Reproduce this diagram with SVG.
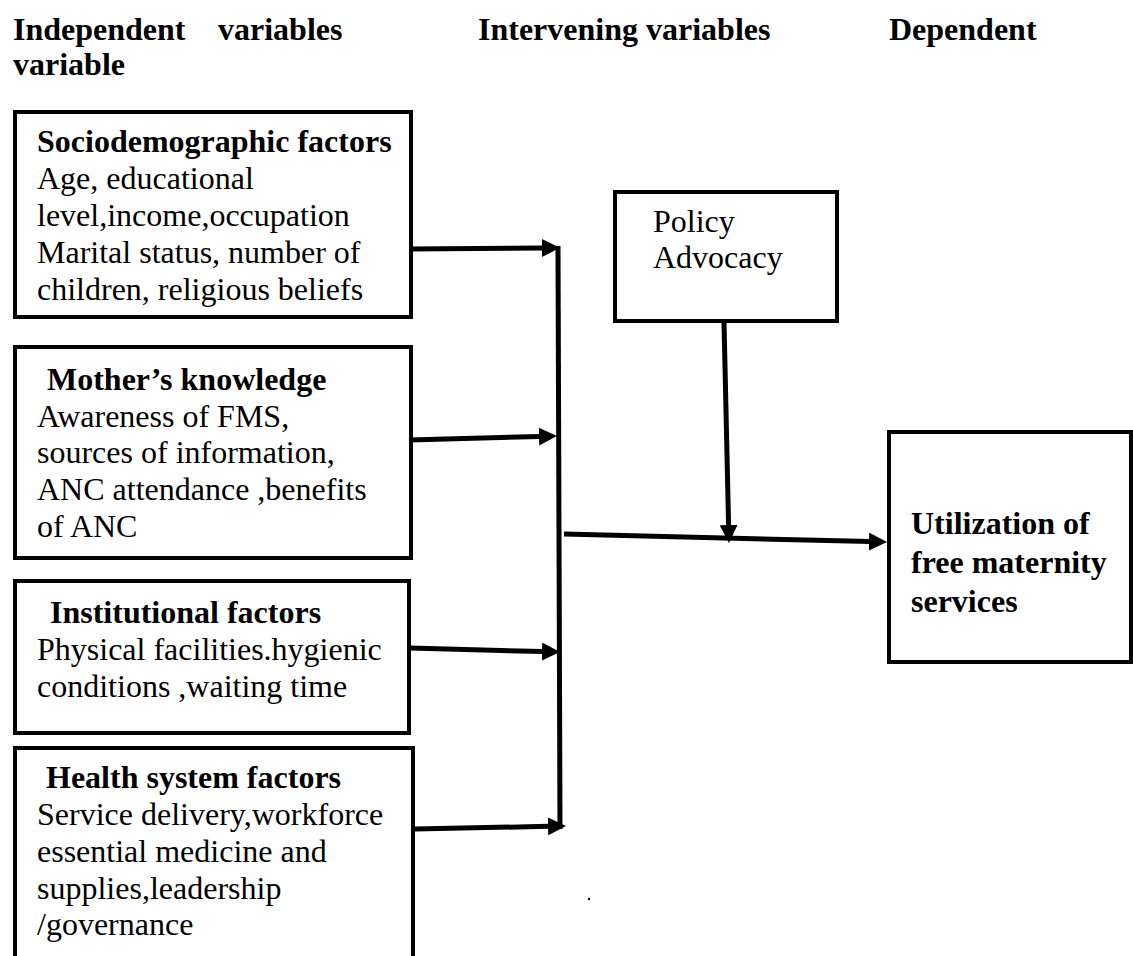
<svg xmlns="http://www.w3.org/2000/svg" width="1133" height="956" viewBox="0 0 1133 956">
  <style>
    text { font-family: "Liberation Serif", "Times New Roman", serif; font-size: 32px; fill: #000; }
    .b { font-weight: bold; }
    .box { fill: #fff; stroke: #000; stroke-width: 4; }
    .conn { fill: none; stroke: #000; stroke-width: 5; }
  </style>
  <defs>
    <marker id="ah" viewBox="0 0 18 18" markerUnits="userSpaceOnUse" markerWidth="18" markerHeight="18" refX="1" refY="9" orient="auto">
      <path d="M0,0 L18,9 L0,18 Z" fill="#000"/>
    </marker>
  </defs>
  <rect width="1133" height="956" fill="#fff"/>

  <!-- column headings -->
  <g id="headings" class="b">
    <text class="b" x="13" y="40">Independent</text>
    <text class="b" x="218" y="40">variables</text>
    <text class="b" x="478" y="40">Intervening variables</text>
    <text class="b" x="889" y="40">Dependent</text>
    <text class="b" x="13" y="75">variable</text>
  </g>

  <g id="sociodemographic">
    <rect class="box" x="15" y="112" width="396" height="205"/>
    <text class="b" x="37" y="152">Sociodemographic factors</text>
    <text x="37" y="189">Age, educational</text>
    <text x="37" y="226">level,income,occupation</text>
    <text x="37" y="263">Marital status, number of</text>
    <text x="37" y="300">children, religious beliefs</text>
  </g>

  <g id="knowledge">
    <rect class="box" x="15" y="347" width="396" height="211"/>
    <text class="b" x="47" y="390">Mother’s knowledge</text>
    <text x="37" y="427">Awareness of FMS,</text>
    <text x="37" y="463">sources of information,</text>
    <text x="37" y="500">ANC attendance ,benefits</text>
    <text x="37" y="537">of ANC</text>
  </g>

  <g id="institutional">
    <rect class="box" x="15" y="581" width="394" height="152"/>
    <text class="b" x="50" y="623">Institutional factors</text>
    <text x="37" y="660">Physical facilities.hygienic</text>
    <text x="37" y="697">conditions ,waiting time</text>
  </g>

  <g id="health-system">
    <rect class="box" x="15" y="748" width="398" height="215"/>
    <text class="b" x="46" y="788">Health system factors</text>
    <text x="37" y="825">Service delivery,workforce</text>
    <text x="37" y="862">essential medicine and</text>
    <text x="37" y="899">supplies,leadership</text>
    <text x="37" y="935">/governance</text>
  </g>

  <g id="policy">
    <rect class="box" x="615" y="192" width="222" height="129"/>
    <text x="653" y="232">Policy</text>
    <text x="653" y="268">Advocacy</text>
  </g>

  <g id="utilization">
    <rect class="box" x="889" y="432" width="242" height="230"/>
    <text class="b" x="911" y="534">Utilization of</text>
    <text class="b" x="911" y="573">free maternity</text>
    <text class="b" x="911" y="612">services</text>
  </g>

  <g id="connectors">
    <path class="conn" d="M558,246 L560,829"/>
    <path class="conn" d="M409,249 L543,248" marker-end="url(#ah)"/>
    <path class="conn" d="M409,440 L540,436.5" marker-end="url(#ah)"/>
    <path class="conn" d="M410,648 L543,651.6" marker-end="url(#ah)"/>
    <path class="conn" d="M415,829 L549,826.3" marker-end="url(#ah)"/>
    <path class="conn" d="M564,534 L870,541.6" marker-end="url(#ah)"/>
    <path class="conn" d="M724,322 L728.6,526" marker-end="url(#ah)"/>
  </g>

  <circle cx="589" cy="899" r="1.2" fill="#000"/>
</svg>
